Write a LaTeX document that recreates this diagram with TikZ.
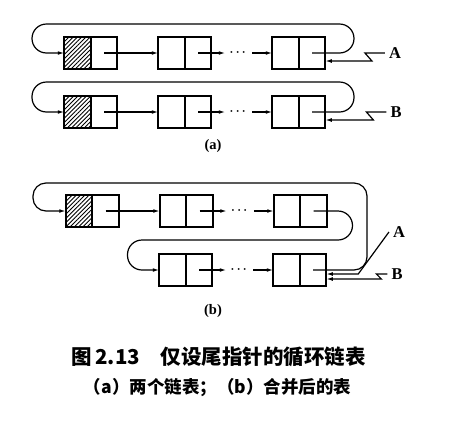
\documentclass[tikz,border=0pt]{standalone}
\usepackage{fontspec}
\usepackage{amsmath}
\usepackage{tikz}
\usetikzlibrary{positioning,arrows.meta,calc,patterns.meta}
\newfontfamily\cjk{Noto Sans CJK SC}
\newfontfamily\lettersf{Liberation Serif}

\begin{document}
\begin{tikzpicture}[x=1pt,y=-1pt,line width=1.2pt]
    \useasboundingbox (0,0) rectangle (466,437);

    % Shapes
    \tikzstyle{cell}=[rectangle, draw, line width=1.6pt, minimum width=26.5pt, minimum height=32.5pt, inner sep=0pt, outer sep=0pt]
    \tikzstyle{head}=[cell, pattern={Lines[angle=45,distance=3pt,line width=0.9pt]}]
    \tikzstyle{dots}=[inner sep=0pt, minimum width=26pt, font=\large]
    \tikzstyle{ptr}=[-{Latex[length=6.5pt,width=3.8pt]}]
    \tikzstyle{letter}=[font=\lettersf\bfseries\fontsize{16.5}{18}\selectfont, inner sep=3.5pt]
    \tikzstyle{sublabel}=[font=\lettersf\bfseries\fontsize{14.5}{16}\selectfont]

    % List A
    \node[head] at (77.5,53) (A1d) {};
    \node[cell, right=0pt of A1d] (A1n) {};
    \node[cell, right=41pt of A1n] (A2d) {};
    \node[cell, right=0pt of A2d] (A2n) {};
    \node[dots, right=14pt of A2n] (dotsA) {$\boldsymbol{\cdots}$};
    \node[cell, right=61pt of A2n] (A3d) {};
    \node[cell, right=0pt of A3d] (A3n) {};
    \node[letter] at (395,53) (labA) {A};

    % List B
    \node[head] at (77.5,112) (B1d) {};
    \node[cell, right=0pt of B1d] (B1n) {};
    \node[cell, right=41pt of B1n] (B2d) {};
    \node[cell, right=0pt of B2d] (B2n) {};
    \node[dots, right=14pt of B2n] (dotsB) {$\boldsymbol{\cdots}$};
    \node[cell, right=61pt of B2n] (B3d) {};
    \node[cell, right=0pt of B3d] (B3n) {};
    \node[letter] at (396,112) (labB) {B};

    \node[sublabel] at (213,146) (capA) {(a)};

    % Arrows (a)
    \draw[ptr] (A1n.center) -- (A2d.west);
    \draw[ptr] (A2n.center) -- (dotsA);
    \draw[ptr] (dotsA) -- (A3d.west);
    \draw[ptr, rounded corners=14.5pt] (A3n.center) -- ++(42,0) -- ++(0,-29) -- ++(-322,0) -- ++(0,29) -- (A1d.west);
    \draw[ptr] (labA.west) -- ++(-20,0) -- ++(7,8) -- ($(A3n.east)+(0,8)$);

    \draw[ptr] (B1n.center) -- (B2d.west);
    \draw[ptr] (B2n.center) -- (dotsB);
    \draw[ptr] (dotsB) -- (B3d.west);
    \draw[ptr, rounded corners=14.5pt] (B3n.center) -- ++(42,0) -- ++(0,-30) -- ++(-322,0) -- ++(0,30) -- (B1d.west);
    \draw[ptr] (labB.west) -- ++(-20,0) -- ++(7,8) -- ($(B3n.east)+(0,8)$);

    % Merged list
    \node[head] at (79,211) (M1d) {};
    \node[cell, right=0pt of M1d] (M1n) {};
    \node[cell, right=41pt of M1n] (M2d) {};
    \node[cell, right=0pt of M2d] (M2n) {};
    \node[dots, right=14pt of M2n] (dotsM1) {$\boldsymbol{\cdots}$};
    \node[cell, right=61pt of M2n] (M3d) {};
    \node[cell, right=0pt of M3d] (M3n) {};

    \node[cell] at (172.5,270) (M4d) {};
    \node[cell, right=0pt of M4d] (M4n) {};
    \node[dots, right=14pt of M4n] (dotsM2) {$\boldsymbol{\cdots}$};
    \node[cell, right=61pt of M4n] (M5d) {};
    \node[cell, right=0pt of M5d] (M5n) {};
    \node[letter] at (399,232) (labMA) {A};
    \node[letter] at (397,274) (labMB) {B};

    \node[sublabel] at (213,311) (capB) {(b)};

    % Arrows (b)
    \draw[ptr] (M1n.center) -- (M2d.west);
    \draw[ptr] (M2n.center) -- (dotsM1);
    \draw[ptr] (dotsM1) -- (M3d.west);
    \draw[ptr, rounded corners=14.5pt] (M3n.center) -- ++(39,0) -- ++(0,29) -- ++(-225,0) -- ++(0,30) -- (M4d.west);
    \draw[ptr] (M4n.center) -- (dotsM2);
    \draw[ptr] (dotsM2) -- (M5d.west);
    \draw[ptr, rounded corners=13pt] (M5n.center) -- ++(54,0) -- ++(0,-87) -- ++(-334,0) -- ++(0,28) -- (M1d.west);
    \draw[ptr] (labMA.west) -- ($(M5n.east)+(32,4)$) -- ($(M5n.east)+(0,4)$);
    \draw[ptr] (labMB.west) -- ++(-11,0) -- ++(5,5) -- ($(M5n.east)+(0,9)$);

    % Caption
    \node[font=\cjk\bfseries\fontsize{20.5}{24}\selectfont] at (218.5,357) (title) {图\,2.13\hspace{1em}仅设尾指针的循环链表};
    \node[font=\cjk\bfseries\fontsize{17.5}{20}\selectfont] at (217.5,388) (subtitle) {（a）两个链表；（b）合并后的表};
\end{tikzpicture}
\end{document}
